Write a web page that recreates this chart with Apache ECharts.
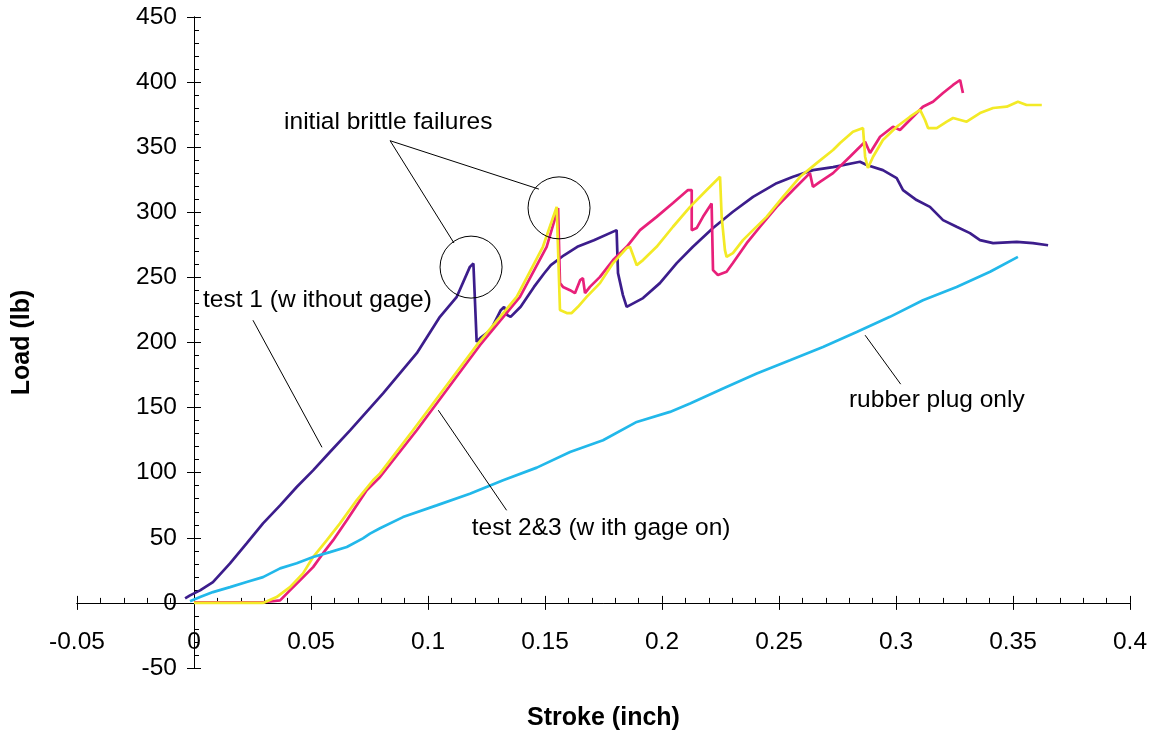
<!DOCTYPE html>
<html>
<head>
<meta charset="utf-8">
<title>Load vs Stroke</title>
<script src="https://cdn.jsdelivr.net/npm/echarts@6/dist/echarts.min.js"></script>
<style>
  html, body { margin: 0; padding: 0; background: #fff; }
  #chart { width: 1154px; height: 735px; }
</style>
</head>
<body>
<div id="chart"></div>
<script>
// Stroke (inch) / Load (lb) pairs for each test run
const test1 = [
  [-0.0038, 3.5], [-0.0017, 5.8], [0.0026, 9.6], [0.0081, 16.0], [0.0154, 30.4],
  [0.0225, 45.7], [0.0295, 61.1], [0.0368, 74.9], [0.0439, 89.0], [0.0509, 101.8],
  [0.0581, 115.9], [0.0667, 132.5], [0.0808, 161.0], [0.0952, 191.8], [0.1051, 219.7],
  [0.1123, 235.1], [0.1179, 258.1], [0.1194, 260.7], [0.1208, 200.5], [0.1227, 204.0],
  [0.1268, 209.5], [0.1311, 224.8], [0.1325, 227.4], [0.1339, 221.0], [0.1353, 219.7],
  [0.1396, 227.4], [0.1453, 242.7], [0.1496, 253.0], [0.1525, 259.4], [0.1581, 267.0],
  [0.1638, 273.5], [0.1709, 278.6], [0.1806, 286.3], [0.1812, 253.3], [0.1833, 236.4],
  [0.1849, 227.4], [0.1919, 234.1], [0.1991, 245.6], [0.2063, 261.0], [0.2132, 273.5],
  [0.2218, 287.9], [0.2303, 300.4], [0.2389, 311.9], [0.2490, 322.4], [0.2560, 327.3],
  [0.2645, 332.4], [0.2731, 334.7], [0.2846, 338.8], [0.2875, 336.3], [0.2944, 332.4],
  [0.3003, 326.3], [0.3030, 317.0], [0.3088, 309.4], [0.3145, 304.2], [0.3201, 294.0],
  [0.3259, 288.9], [0.3316, 284.0], [0.3359, 278.6], [0.3415, 276.3], [0.3516, 277.3],
  [0.3585, 276.3], [0.3650, 274.7]
];

const test2 = [
  [0.0000, 0.5], [0.0295, 0.5], [0.0368, 1.9], [0.0410, 9.6], [0.0453, 17.3],
  [0.0509, 27.5], [0.0551, 38.0], [0.0594, 48.0], [0.0653, 63.4], [0.0738, 86.5],
  [0.0795, 96.7], [0.0952, 132.6], [0.1222, 197.9], [0.1393, 235.0], [0.1507, 273.5],
  [0.1556, 303.2], [0.1564, 245.6], [0.1577, 242.7], [0.1607, 240.2], [0.1628, 237.9],
  [0.1650, 247.9], [0.1662, 249.4], [0.1671, 237.9], [0.1692, 242.7], [0.1735, 250.4],
  [0.1791, 263.3], [0.1849, 273.5], [0.1906, 286.3], [0.1977, 296.5], [0.2047, 307.1],
  [0.2111, 317.1], [0.2127, 317.1], [0.2127, 286.3], [0.2148, 287.9], [0.2175, 296.5],
  [0.2212, 306.8], [0.2218, 255.6], [0.2239, 251.8], [0.2276, 254.3], [0.2303, 261.0],
  [0.2362, 276.3], [0.2419, 288.9], [0.2490, 304.2], [0.2560, 317.1], [0.2632, 330.1],
  [0.2645, 319.6], [0.2675, 323.4], [0.2731, 330.1], [0.2803, 342.7], [0.2846, 350.4],
  [0.2868, 354.2], [0.2889, 345.5], [0.2932, 358.0], [0.2987, 365.7], [0.3017, 363.2],
  [0.3073, 373.4], [0.3115, 381.1], [0.3158, 384.9], [0.3201, 391.6], [0.3244, 397.8],
  [0.3274, 401.6], [0.3286, 391.6]
];

const test3 = [
  [0.0000, 0.0], [0.0295, 0.0], [0.0353, 4.5], [0.0410, 12.1], [0.0466, 22.7],
  [0.0509, 35.2], [0.0567, 48.0], [0.0624, 61.1], [0.0695, 78.8], [0.0765, 94.2],
  [0.0795, 99.5], [0.0936, 132.6], [0.1208, 197.9], [0.1379, 235.0], [0.1491, 273.5],
  [0.1550, 304.2], [0.1564, 224.9], [0.1593, 222.6], [0.1614, 222.6], [0.1641, 227.4],
  [0.1678, 235.0], [0.1735, 245.6], [0.1791, 261.0], [0.1849, 272.5], [0.1863, 273.5],
  [0.1892, 259.4], [0.1919, 263.3], [0.1977, 273.5], [0.2047, 288.9], [0.2120, 304.2],
  [0.2191, 317.1], [0.2248, 327.3], [0.2255, 296.5], [0.2269, 270.9], [0.2276, 265.8],
  [0.2303, 268.6], [0.2346, 278.6], [0.2389, 286.3], [0.2447, 296.5], [0.2517, 311.9],
  [0.2590, 327.3], [0.2661, 337.8], [0.2731, 347.8], [0.2761, 353.2], [0.2816, 361.9],
  [0.2859, 364.7], [0.2868, 342.7], [0.2880, 334.0], [0.2902, 342.7], [0.2944, 355.5],
  [0.3003, 365.7], [0.3060, 373.4], [0.3103, 378.6], [0.3124, 370.9], [0.3137, 364.7],
  [0.3174, 364.7], [0.3217, 369.6], [0.3244, 372.4], [0.3302, 369.6], [0.3359, 376.2],
  [0.3415, 380.1], [0.3473, 381.1], [0.3521, 384.9], [0.3558, 382.4], [0.3623, 382.4]
];

const rubberPlug = [
  [-0.0017, 1.2], [0.0026, 4.5], [0.0081, 8.3], [0.0154, 12.1], [0.0225, 16.0],
  [0.0295, 19.8], [0.0368, 26.5], [0.0439, 30.4], [0.0509, 35.2], [0.0581, 39.0],
  [0.0653, 42.9], [0.0722, 49.6], [0.0752, 53.2], [0.0795, 57.3], [0.0893, 65.9],
  [0.1037, 74.9], [0.1179, 83.9], [0.1321, 94.2], [0.1465, 103.9], [0.1607, 115.9],
  [0.1748, 124.9], [0.1892, 139.0], [0.2034, 146.7], [0.2120, 153.1], [0.2261, 164.6],
  [0.2405, 176.2], [0.2547, 186.4], [0.2688, 196.6], [0.2832, 208.1], [0.2974, 219.7],
  [0.3115, 232.5], [0.3259, 242.7], [0.3402, 254.3], [0.3521, 265.8]
];

// Axis ranges
const xRange = { min: -0.05, max: 0.4, interval: 0.05 };
const yRange = { min: -50, max: 450, interval: 50 };

// Callout texts (left edge, vertical middle) in data coordinates
const calloutLabels = [
  { text: 'initial brittle failures', at: [0.0385, 369.3] },
  { text: 'test 1 (w ithout gage)', at: [0.00385, 232.5] },
  { text: 'test 2&3 (w ith gage on)', at: [0.1187, 57.3] },
  { text: 'rubber plug only', at: [0.2799, 155.7] }
];
// Leader lines from each label to its curve
const leaderLines = [
  [[0.0838, 355.0], [0.1111, 276.4]],
  [[0.0838, 355.0], [0.1474, 317.8]],
  [[0.0252, 217.1], [0.0547, 119.5]],
  [[0.1044, 148.0], [0.1336, 71.1]],
  [[0.2868, 205.6], [0.3020, 168.0]]
];
// Rings around the first failure peaks
const failureRings = [[0.1184, 257.9], [0.1560, 303.4]];

const FONT = "'Liberation Sans', Arial, sans-serif";
const chart = echarts.init(document.getElementById('chart'), null, { renderer: 'canvas' });

function lineSeries(name, data, color) {
  return {
    name, type: 'line', data, xAxisIndex: 0, yAxisIndex: 0,
    showSymbol: false, symbol: 'none', animation: false,
    lineStyle: { color, width: 2.7 }, z: 3
  };
}

const axisText = { color: '#000', fontFamily: FONT, fontSize: 24.5 };

// Tick labels and axis titles are offset from the grid edge so that they
// sit next to the zero-crossing axis lines.
chart.setOption({
  animation: false,
  backgroundColor: '#fff',
  grid: { left: 77, right: 24, top: 17, bottom: 67, containLabel: false, outerBoundsMode: 'none' },
  xAxis: [
    {
      type: 'value', position: 'bottom', ...xRange,
      axisLine: { onZero: true, lineStyle: { color: '#000', width: 1 } },
      axisTick: { show: true, inside: false, length: 7, lineStyle: { color: '#000' } },
      axisLabel: { ...axisText, margin: -38.5 },
      splitLine: { show: false },
      name: 'Stroke (inch)', nameLocation: 'middle', nameGap: 37.5,
      nameTextStyle: { color: '#000', fontFamily: FONT, fontSize: 25, fontWeight: 'bold' }
    },
    {
      type: 'value', position: 'bottom', ...xRange,
      axisLine: { onZero: true, lineStyle: { color: '#000', width: 1 } },
      axisTick: { show: true, inside: true, length: 7, lineStyle: { color: '#000' } },
      minorTick: { show: true, splitNumber: 5, length: 5, lineStyle: { color: '#000' } },
      axisLabel: { show: false },
      splitLine: { show: false }
    }
  ],
  yAxis: [
    {
      type: 'value', position: 'left', ...yRange,
      axisLine: { onZero: true, lineStyle: { color: '#000', width: 1 } },
      axisTick: { show: true, inside: false, length: 7, lineStyle: { color: '#000' } },
      axisLabel: { ...axisText, margin: -100 },
      splitLine: { show: false },
      name: 'Load (lb)', nameLocation: 'middle', nameGap: 42.5, nameRotate: 90,
      nameTextStyle: { color: '#000', fontFamily: FONT, fontSize: 25, fontWeight: 'bold' }
    },
    {
      type: 'value', position: 'left', ...yRange,
      axisLine: { onZero: true, lineStyle: { color: '#000', width: 1 } },
      axisTick: { show: true, inside: true, length: 7, lineStyle: { color: '#000' } },
      minorTick: { show: true, splitNumber: 5, length: 5, lineStyle: { color: '#000' } },
      axisLabel: { show: false },
      splitLine: { show: false }
    }
  ],
  series: [
    lineSeries('test 1', test1, '#3c1d8c'),
    lineSeries('test 2', test2, '#e8207a'),
    lineSeries('test 3', test3, '#f3ea26'),
    lineSeries('rubber plug only', rubberPlug, '#22b8ea')
  ]
});

// Callouts are placed through the grid's own data-to-pixel mapping
const toPx = p => chart.convertToPixel({ gridIndex: 0 }, p);
const graphics = [];
calloutLabels.forEach(c => {
  const [x, y] = toPx(c.at);
  graphics.push({
    type: 'text', x, y, z: 10,
    style: { text: c.text, fill: '#000', font: '24.5px ' + FONT, textAlign: 'left', textVerticalAlign: 'middle' }
  });
});
leaderLines.forEach(([a, b]) => {
  const p1 = toPx(a), p2 = toPx(b);
  graphics.push({
    type: 'line', z: 10,
    shape: { x1: p1[0], y1: p1[1], x2: p2[0], y2: p2[1] },
    style: { stroke: '#000', lineWidth: 1 }
  });
});
failureRings.forEach(c => {
  const [cx, cy] = toPx(c);
  graphics.push({
    type: 'circle', z: 10,
    shape: { cx, cy, r: 31 },
    style: { fill: 'none', stroke: '#000', lineWidth: 1 }
  });
});
chart.setOption({ graphic: graphics });
</script>
</body>
</html>
